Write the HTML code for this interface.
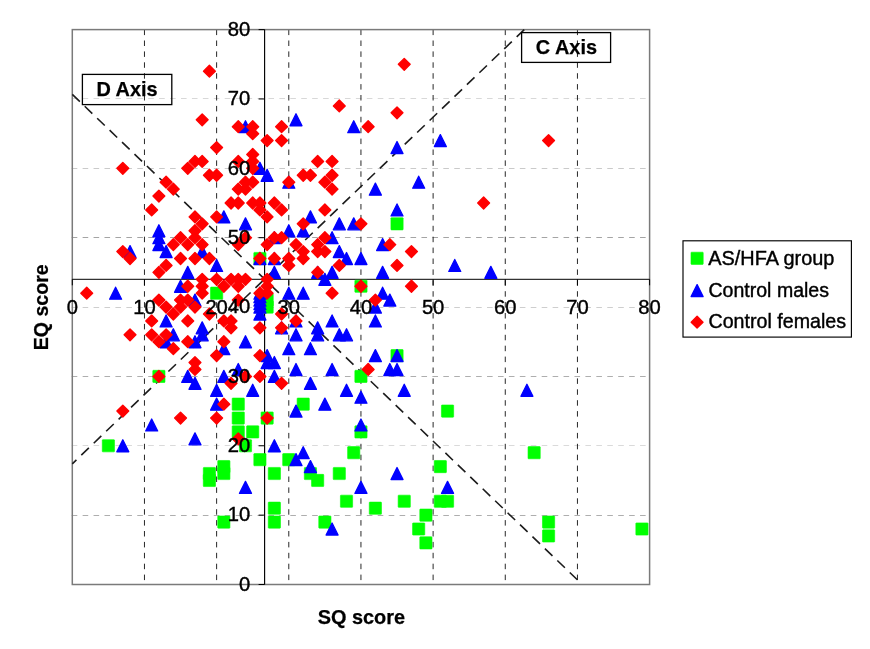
<!DOCTYPE html>
<html lang="en"><head><meta charset="utf-8"><title>EQ and SQ scores</title>
<style>
html,body{margin:0;padding:0;background:#fff;}
body{width:870px;height:649px;overflow:hidden;}
svg{display:block;font-family:"Liberation Sans",Arial,sans-serif;}
.tk{font-size:20.2px;fill:#000;stroke:#000;stroke-width:0.4px;}
.bd{font-size:19.9px;font-weight:bold;fill:#000;stroke:#000;stroke-width:0.25px;}
.lg{font-size:19.8px;fill:#000;stroke:#000;stroke-width:0.4px;}
</style></head><body>
<svg width="870" height="649" viewBox="0 0 870 649">
<rect width="870" height="649" fill="#fff"/>
<defs>
<rect id="g" x="-6.1" y="-6.1" width="12.2" height="12.2" rx="0.6" fill="#0f0" stroke="#0f0" stroke-width="0.6"/>
<polygon id="b" points="0,-6.0 6.0,6.0 -6.0,6.0" fill="#00f" stroke="#00f" stroke-width="1.3" stroke-linejoin="round"/>
<polygon id="r" points="0,-5.9 5.9,0 0,5.9 -5.9,0" fill="#f00" stroke="#f00" stroke-width="1.4" stroke-linejoin="round"/>
</defs>
<g stroke-width="1" stroke-dasharray="5.6 5.33" fill="none">
<line x1="71.70" y1="515.5" x2="649.60" y2="515.5" stroke="#aeaeae"/>
<line x1="71.70" y1="445.5" x2="649.60" y2="445.5" stroke="#dadada"/>
<line x1="71.70" y1="376.5" x2="649.60" y2="376.5" stroke="#aeaeae"/>
<line x1="71.70" y1="307.5" x2="649.60" y2="307.5" stroke="#cecece"/>
<line x1="71.70" y1="237.5" x2="649.60" y2="237.5" stroke="#a4a4a4"/>
<line x1="71.70" y1="168.5" x2="649.60" y2="168.5" stroke="#cacaca"/>
<line x1="71.70" y1="98.5" x2="649.60" y2="98.5" stroke="#d8d8d8"/>
</g>
<g stroke="#000" stroke-width="0.85" stroke-dasharray="5.5 5.4" fill="none">
<line x1="144.46" y1="29.60" x2="144.46" y2="584.50"/>
<line x1="216.62" y1="29.60" x2="216.62" y2="584.50"/>
<line x1="288.79" y1="29.60" x2="288.79" y2="584.50"/>
<line x1="360.95" y1="29.60" x2="360.95" y2="584.50"/>
<line x1="433.11" y1="29.60" x2="433.11" y2="584.50"/>
<line x1="505.28" y1="29.60" x2="505.28" y2="584.50"/>
<line x1="577.44" y1="29.60" x2="577.44" y2="584.50"/>
</g>
<rect x="72.30" y="29.60" width="577.30" height="554.90" fill="none" stroke="#7a7a7a" stroke-width="1.5"/>
<g stroke="#000" stroke-width="1" fill="none">
<line x1="72.30" y1="279.31" x2="649.60" y2="279.31"/>
<line x1="264.60" y1="29.60" x2="264.60" y2="584.50" stroke-width="1.15"/>
<line x1="72.30" y1="279.31" x2="72.30" y2="285.31"/>
<line x1="258.60" y1="584.50" x2="264.60" y2="584.50"/>
<line x1="144.46" y1="279.31" x2="144.46" y2="285.31"/>
<line x1="258.60" y1="515.14" x2="264.60" y2="515.14"/>
<line x1="216.62" y1="279.31" x2="216.62" y2="285.31"/>
<line x1="258.60" y1="445.77" x2="264.60" y2="445.77"/>
<line x1="288.79" y1="279.31" x2="288.79" y2="285.31"/>
<line x1="258.60" y1="376.41" x2="264.60" y2="376.41"/>
<line x1="360.95" y1="279.31" x2="360.95" y2="285.31"/>
<line x1="258.60" y1="307.05" x2="264.60" y2="307.05"/>
<line x1="433.11" y1="279.31" x2="433.11" y2="285.31"/>
<line x1="258.60" y1="237.69" x2="264.60" y2="237.69"/>
<line x1="505.28" y1="279.31" x2="505.28" y2="285.31"/>
<line x1="258.60" y1="168.33" x2="264.60" y2="168.33"/>
<line x1="577.44" y1="279.31" x2="577.44" y2="285.31"/>
<line x1="258.60" y1="98.96" x2="264.60" y2="98.96"/>
<line x1="649.60" y1="279.31" x2="649.60" y2="285.31"/>
<line x1="258.60" y1="29.60" x2="264.60" y2="29.60"/>
</g>
<g stroke="#1c1c1c" stroke-width="1.6" stroke-dasharray="10.5 6.75" fill="none">
<line x1="72.30" y1="94.32" x2="577.44" y2="579.85"/>
<line x1="524.25" y1="29.60" x2="72.30" y2="463.80"/>
</g>
<g>
<use href="#g" x="397.03" y="223.82"/>
<use href="#g" x="259.92" y="258.50"/>
<use href="#g" x="216.62" y="293.18"/>
<use href="#g" x="360.95" y="286.24"/>
<use href="#g" x="267.14" y="300.11"/>
<use href="#g" x="267.14" y="307.05"/>
<use href="#g" x="158.89" y="376.41"/>
<use href="#g" x="108.38" y="445.77"/>
<use href="#g" x="209.41" y="473.52"/>
<use href="#g" x="209.41" y="480.46"/>
<use href="#g" x="223.84" y="466.58"/>
<use href="#g" x="223.84" y="473.52"/>
<use href="#g" x="223.84" y="522.07"/>
<use href="#g" x="360.95" y="376.41"/>
<use href="#g" x="238.27" y="404.16"/>
<use href="#g" x="303.22" y="404.16"/>
<use href="#g" x="238.27" y="418.03"/>
<use href="#g" x="267.14" y="418.03"/>
<use href="#g" x="238.27" y="431.90"/>
<use href="#g" x="252.71" y="431.90"/>
<use href="#g" x="360.95" y="431.90"/>
<use href="#g" x="245.49" y="445.77"/>
<use href="#g" x="353.73" y="452.71"/>
<use href="#g" x="259.92" y="459.65"/>
<use href="#g" x="288.79" y="459.65"/>
<use href="#g" x="274.36" y="473.52"/>
<use href="#g" x="310.44" y="473.52"/>
<use href="#g" x="339.30" y="473.52"/>
<use href="#g" x="397.03" y="355.60"/>
<use href="#g" x="447.55" y="411.09"/>
<use href="#g" x="440.33" y="466.58"/>
<use href="#g" x="534.14" y="452.71"/>
<use href="#g" x="317.65" y="480.46"/>
<use href="#g" x="274.36" y="508.20"/>
<use href="#g" x="274.36" y="522.07"/>
<use href="#g" x="346.52" y="501.26"/>
<use href="#g" x="375.38" y="508.20"/>
<use href="#g" x="324.87" y="522.07"/>
<use href="#g" x="404.25" y="501.26"/>
<use href="#g" x="440.33" y="501.26"/>
<use href="#g" x="447.55" y="501.26"/>
<use href="#g" x="425.90" y="515.14"/>
<use href="#g" x="418.68" y="529.01"/>
<use href="#g" x="425.90" y="542.88"/>
<use href="#g" x="548.57" y="522.07"/>
<use href="#g" x="548.57" y="535.95"/>
<use href="#g" x="641.95" y="529.01"/>
</g>
<g>
<use href="#b" x="245.49" y="126.71"/>
<use href="#b" x="296.00" y="119.77"/>
<use href="#b" x="353.73" y="126.71"/>
<use href="#b" x="440.33" y="140.58"/>
<use href="#b" x="397.03" y="147.52"/>
<use href="#b" x="223.84" y="216.88"/>
<use href="#b" x="158.89" y="230.75"/>
<use href="#b" x="158.89" y="237.69"/>
<use href="#b" x="158.89" y="244.62"/>
<use href="#b" x="166.11" y="251.56"/>
<use href="#b" x="130.03" y="251.56"/>
<use href="#b" x="202.19" y="251.56"/>
<use href="#b" x="259.92" y="168.33"/>
<use href="#b" x="267.14" y="175.26"/>
<use href="#b" x="288.79" y="182.20"/>
<use href="#b" x="375.38" y="189.13"/>
<use href="#b" x="310.44" y="216.88"/>
<use href="#b" x="245.49" y="223.82"/>
<use href="#b" x="339.30" y="223.82"/>
<use href="#b" x="353.73" y="223.82"/>
<use href="#b" x="288.79" y="230.75"/>
<use href="#b" x="303.22" y="230.75"/>
<use href="#b" x="332.09" y="237.69"/>
<use href="#b" x="274.36" y="237.69"/>
<use href="#b" x="339.30" y="251.56"/>
<use href="#b" x="418.68" y="182.20"/>
<use href="#b" x="397.03" y="209.94"/>
<use href="#b" x="382.60" y="244.62"/>
<use href="#b" x="115.60" y="293.18"/>
<use href="#b" x="216.62" y="265.43"/>
<use href="#b" x="187.76" y="272.37"/>
<use href="#b" x="180.54" y="286.24"/>
<use href="#b" x="194.98" y="300.11"/>
<use href="#b" x="166.11" y="320.92"/>
<use href="#b" x="202.19" y="327.86"/>
<use href="#b" x="173.33" y="334.80"/>
<use href="#b" x="202.19" y="334.80"/>
<use href="#b" x="166.11" y="341.73"/>
<use href="#b" x="194.98" y="341.73"/>
<use href="#b" x="223.84" y="348.67"/>
<use href="#b" x="259.92" y="258.50"/>
<use href="#b" x="274.36" y="258.50"/>
<use href="#b" x="346.52" y="258.50"/>
<use href="#b" x="360.95" y="258.50"/>
<use href="#b" x="274.36" y="272.37"/>
<use href="#b" x="317.65" y="272.37"/>
<use href="#b" x="332.09" y="272.37"/>
<use href="#b" x="324.87" y="279.31"/>
<use href="#b" x="288.79" y="293.18"/>
<use href="#b" x="303.22" y="293.18"/>
<use href="#b" x="259.92" y="293.18"/>
<use href="#b" x="259.92" y="296.65"/>
<use href="#b" x="259.92" y="300.11"/>
<use href="#b" x="259.92" y="303.58"/>
<use href="#b" x="259.92" y="307.05"/>
<use href="#b" x="259.92" y="313.99"/>
<use href="#b" x="375.38" y="307.05"/>
<use href="#b" x="296.00" y="320.92"/>
<use href="#b" x="332.09" y="320.92"/>
<use href="#b" x="375.38" y="320.92"/>
<use href="#b" x="281.57" y="327.86"/>
<use href="#b" x="317.65" y="327.86"/>
<use href="#b" x="296.00" y="334.80"/>
<use href="#b" x="317.65" y="334.80"/>
<use href="#b" x="339.30" y="334.80"/>
<use href="#b" x="346.52" y="334.80"/>
<use href="#b" x="245.49" y="341.73"/>
<use href="#b" x="288.79" y="348.67"/>
<use href="#b" x="310.44" y="348.67"/>
<use href="#b" x="267.14" y="355.60"/>
<use href="#b" x="267.14" y="362.54"/>
<use href="#b" x="274.36" y="362.54"/>
<use href="#b" x="375.38" y="355.60"/>
<use href="#b" x="382.60" y="272.37"/>
<use href="#b" x="454.76" y="265.43"/>
<use href="#b" x="490.84" y="272.37"/>
<use href="#b" x="382.60" y="293.18"/>
<use href="#b" x="389.82" y="300.11"/>
<use href="#b" x="397.03" y="355.60"/>
<use href="#b" x="187.76" y="376.41"/>
<use href="#b" x="194.98" y="383.35"/>
<use href="#b" x="223.84" y="376.41"/>
<use href="#b" x="216.62" y="390.29"/>
<use href="#b" x="216.62" y="404.16"/>
<use href="#b" x="151.68" y="424.97"/>
<use href="#b" x="194.98" y="438.84"/>
<use href="#b" x="122.81" y="445.77"/>
<use href="#b" x="238.27" y="369.48"/>
<use href="#b" x="296.00" y="369.48"/>
<use href="#b" x="332.09" y="369.48"/>
<use href="#b" x="274.36" y="376.41"/>
<use href="#b" x="310.44" y="383.35"/>
<use href="#b" x="252.71" y="390.29"/>
<use href="#b" x="346.52" y="390.29"/>
<use href="#b" x="360.95" y="397.22"/>
<use href="#b" x="324.87" y="404.16"/>
<use href="#b" x="296.00" y="411.09"/>
<use href="#b" x="360.95" y="424.97"/>
<use href="#b" x="274.36" y="445.77"/>
<use href="#b" x="303.22" y="452.71"/>
<use href="#b" x="296.00" y="459.65"/>
<use href="#b" x="310.44" y="466.58"/>
<use href="#b" x="389.82" y="369.48"/>
<use href="#b" x="397.03" y="369.48"/>
<use href="#b" x="404.25" y="390.29"/>
<use href="#b" x="526.92" y="390.29"/>
<use href="#b" x="397.03" y="473.52"/>
<use href="#b" x="245.49" y="487.39"/>
<use href="#b" x="360.95" y="487.39"/>
<use href="#b" x="332.09" y="529.01"/>
<use href="#b" x="447.55" y="487.39"/>
</g>
<g>
<use href="#r" x="209.41" y="71.22"/>
<use href="#r" x="202.19" y="119.77"/>
<use href="#r" x="238.27" y="126.71"/>
<use href="#r" x="252.71" y="126.71"/>
<use href="#r" x="252.71" y="133.64"/>
<use href="#r" x="267.14" y="140.58"/>
<use href="#r" x="281.57" y="126.71"/>
<use href="#r" x="281.57" y="140.58"/>
<use href="#r" x="339.30" y="105.90"/>
<use href="#r" x="368.17" y="126.71"/>
<use href="#r" x="404.25" y="64.28"/>
<use href="#r" x="397.03" y="112.84"/>
<use href="#r" x="548.57" y="140.58"/>
<use href="#r" x="122.81" y="168.33"/>
<use href="#r" x="216.62" y="147.52"/>
<use href="#r" x="194.98" y="161.39"/>
<use href="#r" x="202.19" y="161.39"/>
<use href="#r" x="187.76" y="168.33"/>
<use href="#r" x="209.41" y="175.26"/>
<use href="#r" x="216.62" y="175.26"/>
<use href="#r" x="166.11" y="182.20"/>
<use href="#r" x="173.33" y="189.13"/>
<use href="#r" x="158.89" y="196.07"/>
<use href="#r" x="151.68" y="209.94"/>
<use href="#r" x="194.98" y="216.88"/>
<use href="#r" x="202.19" y="223.82"/>
<use href="#r" x="216.62" y="216.88"/>
<use href="#r" x="194.98" y="230.75"/>
<use href="#r" x="180.54" y="237.69"/>
<use href="#r" x="194.98" y="237.69"/>
<use href="#r" x="173.33" y="244.62"/>
<use href="#r" x="187.76" y="244.62"/>
<use href="#r" x="202.19" y="244.62"/>
<use href="#r" x="252.71" y="154.45"/>
<use href="#r" x="238.27" y="161.39"/>
<use href="#r" x="252.71" y="161.39"/>
<use href="#r" x="252.71" y="168.33"/>
<use href="#r" x="245.49" y="182.20"/>
<use href="#r" x="252.71" y="182.20"/>
<use href="#r" x="238.27" y="189.13"/>
<use href="#r" x="245.49" y="189.13"/>
<use href="#r" x="288.79" y="182.20"/>
<use href="#r" x="317.65" y="161.39"/>
<use href="#r" x="332.09" y="161.39"/>
<use href="#r" x="303.22" y="175.26"/>
<use href="#r" x="310.44" y="175.26"/>
<use href="#r" x="332.09" y="175.26"/>
<use href="#r" x="324.87" y="182.20"/>
<use href="#r" x="332.09" y="189.13"/>
<use href="#r" x="231.06" y="203.01"/>
<use href="#r" x="238.27" y="203.01"/>
<use href="#r" x="252.71" y="203.01"/>
<use href="#r" x="259.92" y="203.01"/>
<use href="#r" x="274.36" y="203.01"/>
<use href="#r" x="259.92" y="209.94"/>
<use href="#r" x="281.57" y="209.94"/>
<use href="#r" x="324.87" y="209.94"/>
<use href="#r" x="267.14" y="216.88"/>
<use href="#r" x="303.22" y="223.82"/>
<use href="#r" x="360.95" y="223.82"/>
<use href="#r" x="274.36" y="237.69"/>
<use href="#r" x="281.57" y="237.69"/>
<use href="#r" x="324.87" y="237.69"/>
<use href="#r" x="245.49" y="237.69"/>
<use href="#r" x="238.27" y="244.62"/>
<use href="#r" x="267.14" y="244.62"/>
<use href="#r" x="296.00" y="244.62"/>
<use href="#r" x="317.65" y="244.62"/>
<use href="#r" x="303.22" y="251.56"/>
<use href="#r" x="317.65" y="251.56"/>
<use href="#r" x="324.87" y="251.56"/>
<use href="#r" x="483.63" y="203.01"/>
<use href="#r" x="389.82" y="244.62"/>
<use href="#r" x="411.46" y="251.56"/>
<use href="#r" x="86.73" y="293.18"/>
<use href="#r" x="122.81" y="251.56"/>
<use href="#r" x="130.03" y="258.50"/>
<use href="#r" x="130.03" y="334.80"/>
<use href="#r" x="180.54" y="258.50"/>
<use href="#r" x="194.98" y="258.50"/>
<use href="#r" x="209.41" y="258.50"/>
<use href="#r" x="166.11" y="265.43"/>
<use href="#r" x="158.89" y="272.37"/>
<use href="#r" x="202.19" y="279.31"/>
<use href="#r" x="216.62" y="279.31"/>
<use href="#r" x="187.76" y="286.24"/>
<use href="#r" x="202.19" y="286.24"/>
<use href="#r" x="223.84" y="286.24"/>
<use href="#r" x="202.19" y="293.18"/>
<use href="#r" x="158.89" y="300.11"/>
<use href="#r" x="180.54" y="300.11"/>
<use href="#r" x="187.76" y="300.11"/>
<use href="#r" x="166.11" y="307.05"/>
<use href="#r" x="180.54" y="307.05"/>
<use href="#r" x="194.98" y="307.05"/>
<use href="#r" x="173.33" y="313.99"/>
<use href="#r" x="209.41" y="313.99"/>
<use href="#r" x="151.68" y="320.92"/>
<use href="#r" x="187.76" y="320.92"/>
<use href="#r" x="151.68" y="334.80"/>
<use href="#r" x="166.11" y="334.80"/>
<use href="#r" x="158.89" y="341.73"/>
<use href="#r" x="187.76" y="341.73"/>
<use href="#r" x="173.33" y="348.67"/>
<use href="#r" x="216.62" y="355.60"/>
<use href="#r" x="194.98" y="362.54"/>
<use href="#r" x="223.84" y="341.73"/>
<use href="#r" x="259.92" y="258.50"/>
<use href="#r" x="274.36" y="258.50"/>
<use href="#r" x="288.79" y="258.50"/>
<use href="#r" x="303.22" y="258.50"/>
<use href="#r" x="288.79" y="265.43"/>
<use href="#r" x="339.30" y="265.43"/>
<use href="#r" x="317.65" y="272.37"/>
<use href="#r" x="231.06" y="279.31"/>
<use href="#r" x="238.27" y="279.31"/>
<use href="#r" x="245.49" y="279.31"/>
<use href="#r" x="267.14" y="279.31"/>
<use href="#r" x="238.27" y="286.24"/>
<use href="#r" x="267.14" y="286.24"/>
<use href="#r" x="360.95" y="286.24"/>
<use href="#r" x="259.92" y="293.18"/>
<use href="#r" x="267.14" y="293.18"/>
<use href="#r" x="332.09" y="293.18"/>
<use href="#r" x="238.27" y="300.11"/>
<use href="#r" x="223.84" y="320.92"/>
<use href="#r" x="231.06" y="320.92"/>
<use href="#r" x="281.57" y="313.99"/>
<use href="#r" x="296.00" y="320.92"/>
<use href="#r" x="231.06" y="327.86"/>
<use href="#r" x="259.92" y="327.86"/>
<use href="#r" x="281.57" y="327.86"/>
<use href="#r" x="259.92" y="355.60"/>
<use href="#r" x="397.03" y="265.43"/>
<use href="#r" x="411.46" y="286.24"/>
<use href="#r" x="375.38" y="300.11"/>
<use href="#r" x="194.98" y="369.48"/>
<use href="#r" x="158.89" y="376.41"/>
<use href="#r" x="223.84" y="404.16"/>
<use href="#r" x="122.81" y="411.09"/>
<use href="#r" x="180.54" y="418.03"/>
<use href="#r" x="216.62" y="418.03"/>
<use href="#r" x="368.17" y="369.48"/>
<use href="#r" x="245.49" y="376.41"/>
<use href="#r" x="259.92" y="376.41"/>
<use href="#r" x="231.06" y="383.35"/>
<use href="#r" x="281.57" y="383.35"/>
<use href="#r" x="267.14" y="418.03"/>
<use href="#r" x="238.27" y="438.84"/>
</g>
<g class="tk" text-anchor="end">
<text x="250.2" y="590.80">0</text>
<text x="250.2" y="521.44">10</text>
<text x="250.2" y="452.07">20</text>
<text x="250.2" y="382.71">30</text>
<text x="250.2" y="313.35">40</text>
<text x="250.2" y="243.99">50</text>
<text x="250.2" y="174.63">60</text>
<text x="250.2" y="105.26">70</text>
<text x="250.2" y="35.90">80</text>
</g>
<g class="tk" text-anchor="middle">
<text x="72.30" y="314.2">0</text>
<text x="144.46" y="314.2">10</text>
<text x="216.62" y="314.2">20</text>
<text x="288.79" y="314.2">30</text>
<text x="360.95" y="314.2">40</text>
<text x="433.11" y="314.2">50</text>
<text x="505.28" y="314.2">60</text>
<text x="577.44" y="314.2">70</text>
<text x="649.60" y="314.2">80</text>
</g>
<text class="bd" text-anchor="middle" x="361.3" y="623.9">SQ score</text>
<text class="bd" text-anchor="middle" style="font-size:19.55px" transform="translate(48.2 307.3) rotate(-90)">EQ score</text>
<rect x="82.4" y="74.4" width="89.4" height="30.2" fill="none" stroke="#000" stroke-width="1.3"/>
<text class="bd" text-anchor="middle" x="127" y="95.7">D Axis</text>
<rect x="521.6" y="32.6" width="89" height="29.8" fill="none" stroke="#000" stroke-width="1.3"/>
<text class="bd" text-anchor="middle" x="566.4" y="53.9">C Axis</text>
<rect x="683" y="240.8" width="168.4" height="96.3" fill="#fff" stroke="#000" stroke-width="1.15"/>
<use href="#g" x="697.1" y="258.3"/>
<use href="#b" x="697.1" y="290.6"/>
<use href="#r" x="697.1" y="322.2"/>
<g class="lg">
<text x="708.3" y="264.8" style="font-size:19.9px">AS/HFA group</text>
<text x="708.5" y="296.5" style="font-size:19.55px">Control males</text>
<text x="708.5" y="328.3" style="font-size:19.65px">Control females</text>
</g>
</svg></body></html>
